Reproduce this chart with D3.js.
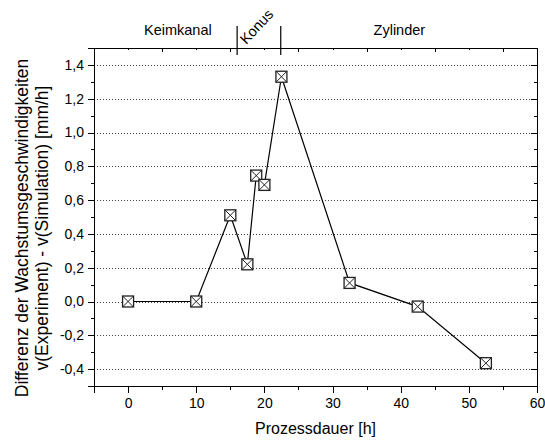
<!DOCTYPE html>
<html lang="de">
<head>
    <meta charset="UTF-8">
    <title>Wachstumsgeschwindigkeit</title>
    <script src="https://d3js.org/d3.v7.min.js"></script>
    <style>
        body {
            margin: 0;
            background: white;
            font-family: Arial, "Liberation Sans", sans-serif;
        }
        .axis path, .axis line {
            stroke: #000;
            shape-rendering: crispEdges;
        }
        .axis text {
            font-family: Arial, "Liberation Sans", sans-serif;
            font-size: 13px;
            fill: #000;
        }
        .grid line {
            stroke: #444;
            stroke-dasharray: 1 2;
            shape-rendering: crispEdges;
        }
    </style>
</head>
<body>
<div id="chart"></div>
<script>
    const prozessdauer = [0, 10, 15, 17.5, 18.8, 20, 22.5, 32.5, 42.5, 52.5];
    const differenz = [0.0, 0.0, 0.51, 0.22, 0.745, 0.69, 1.33, 0.11, -0.03, -0.365];

    const xTicks = [0, 10, 20, 30, 40, 50, 60];
    const yTicks = [-0.4, -0.2, 0.0, 0.2, 0.4, 0.6, 0.8, 1.0, 1.2, 1.4];

    // Bereiche oben
    const bereichGrenzen = [16, 22.4];
    const bereiche = [
        { name: "Keimkanal", x: 7.3, rot: 0 },
        { name: "Konus", x: 19.4, rot: -47 },
        { name: "Zylinder", x: 39.8, rot: 0 }
    ];

    const width = 545, height = 442;
    const margin = { top: 48, right: 8, bottom: 56, left: 94 };
    const w = width - margin.left - margin.right;
    const h = height - margin.top - margin.bottom;

    const svg = d3.select("#chart").append("svg")
        .attr("width", width)
        .attr("height", height);

    const g = svg.append("g")
        .attr("transform", `translate(${margin.left},${margin.top})`);

    const x = d3.scaleLinear().domain([-5, 60]).range([0, w]);
    const y = d3.scaleLinear().domain([-0.5, 1.5]).range([h, 0]);

    const fmt = d => d3.format(".1f")(d).replace(".", ",").replace("−", "-");

    // gepunktete Gitterlinien
    g.append("g").attr("class", "grid")
        .selectAll("line")
        .data(yTicks)
        .join("line")
        .attr("x1", 0).attr("x2", w)
        .attr("y1", d => Math.round(y(d)) + 0.5)
        .attr("y2", d => Math.round(y(d)) + 0.5);

    const minorX = d3.range(-5, 61, 5);
    const minorY = d3.range(-0.5, 1.51, 0.1).map(v => +v.toFixed(2));

    // untere Achse
    g.append("g").attr("class", "axis")
        .attr("transform", `translate(0,${h})`)
        .call(d3.axisBottom(x).tickValues(minorX).tickSize(4).tickFormat(""))
        .call(a => a.select(".domain").remove());
    g.append("g").attr("class", "axis")
        .attr("transform", `translate(0,${h})`)
        .call(d3.axisBottom(x).tickValues(xTicks).tickSize(7).tickPadding(5).tickFormat(d3.format("d")))
        .call(a => a.selectAll("text").style("font-size", "14px"));

    // obere Achse (Ticks nach innen)
    g.append("g").attr("class", "axis")
        .call(d3.axisTop(x).tickValues(d3.range(0, 60, 10)).tickSize(-2).tickFormat(""));
    g.append("g").attr("class", "axis")
        .call(d3.axisTop(x).tickValues(d3.range(5, 60, 10)).tickSize(-4).tickFormat(""));

    // linke Achse
    g.append("g").attr("class", "axis")
        .call(d3.axisLeft(y).tickValues(minorY).tickSize(3).tickFormat(""))
        .call(a => a.select(".domain").remove());
    g.append("g").attr("class", "axis")
        .call(d3.axisLeft(y).tickValues(yTicks).tickSize(6).tickPadding(4).tickFormat(fmt))
        .call(a => a.selectAll("text").style("font-size", "14px"));

    // rechte Achse (Ticks nach innen)
    g.append("g").attr("class", "axis")
        .attr("transform", `translate(${w},0)`)
        .call(d3.axisRight(y).tickValues(minorY).tickSize(-3).tickFormat(""))
        .call(a => a.select(".domain").remove());
    g.append("g").attr("class", "axis")
        .attr("transform", `translate(${w},0)`)
        .call(d3.axisRight(y).tickValues(yTicks).tickSize(-6).tickFormat(""));

    g.selectAll(".axis .domain").style("stroke-width", 1.5);

    // Linie
    const line = d3.line()
        .x((d, i) => x(prozessdauer[i]))
        .y(d => y(d));

    g.append("path")
        .datum(differenz)
        .attr("fill", "none")
        .attr("stroke", "#000")
        .attr("stroke-width", 1.2)
        .attr("d", line);

    // Marker: Quadrat mit Kreuz
    const s = 5.5;
    const marker = g.selectAll(".marker")
        .data(differenz)
        .join("g")
        .attr("class", "marker")
        .attr("transform", (d, i) => `translate(${x(prozessdauer[i])},${y(d)})`);
    marker.append("rect")
        .attr("x", -s).attr("y", -s)
        .attr("width", 2 * s).attr("height", 2 * s)
        .attr("fill", "white")
        .attr("stroke", "#222")
        .attr("stroke-width", 1.3);
    marker.append("path")
        .attr("d", `M${-s},${-s}L${s},${s}M${s},${-s}L${-s},${s}`)
        .attr("stroke", "#222")
        .attr("stroke-width", 1);

    // Bereichsgrenzen oben
    g.selectAll(".grenze")
        .data(bereichGrenzen)
        .join("line")
        .attr("x1", d => x(d)).attr("x2", d => x(d))
        .attr("y1", -22).attr("y2", 7)
        .attr("stroke", "#000")
        .attr("stroke-width", 1.2);

    g.selectAll(".bereich")
        .data(bereiche)
        .join("text")
        .attr("text-anchor", "middle")
        .attr("transform", d => d.rot
            ? `translate(${x(d.x)},${-18}) rotate(${d.rot})`
            : `translate(${x(d.x)},${-13})`)
        .style("font-size", "14.5px")
        .text(d => d.name);

    // Achsentitel
    svg.append("text")
        .attr("x", margin.left + w / 2)
        .attr("y", 434)
        .attr("text-anchor", "middle")
        .style("font-size", "16px")
        .text("Prozessdauer [h]");

    const yLab = svg.append("text")
        .attr("transform", `translate(28,228) rotate(-90)`)
        .attr("text-anchor", "middle")
        .style("font-size", "17.5px");
    yLab.append("tspan").attr("x", 0).attr("dy", 0).text("Differenz der Wachstumsgeschwindigkeiten");
    yLab.append("tspan").attr("x", 0).attr("dy", 20).text("v(Experiment) - v(Simulation) [mm/h]");
</script>
</body>
</html>
